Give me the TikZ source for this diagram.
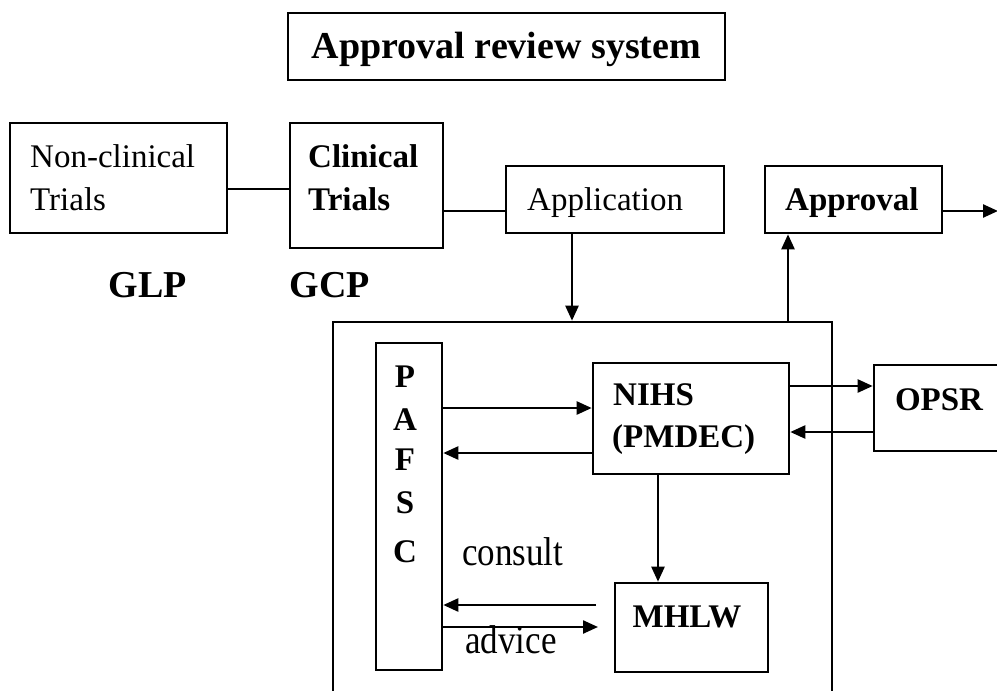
\documentclass[tikz,border=0pt]{standalone}
\usepackage{fontspec}
\setmainfont{Liberation Serif}
\usetikzlibrary{arrows.meta}
\begin{document}
\begin{tikzpicture}[x=1pt,y=-1pt,
  box/.style={draw,line width=2.6pt,rectangle,inner sep=0pt},
  conn/.style={line width=2.4pt},
  arr/.style={line width=2.4pt,-{Triangle[length=15pt,width=13pt]}},
  reg/.style={inner sep=0pt,font=\fontsize{33}{40}\selectfont},
  bld/.style={inner sep=0pt,font=\fontsize{33}{40}\selectfont\bfseries},
  lbl/.style={inner sep=0pt,font=\fontsize{35}{40}\selectfont}]
\clip (0,0) rectangle (997,691);
\fill[white] (0,0) rectangle (997,691);
% boxes
\node[box,minimum width=437pt,minimum height=67pt] (title) at (506.5,46.5) {};
\node[box,minimum width=217pt,minimum height=110pt] (noncl) at (118.5,178) {};
\node[box,minimum width=153pt,minimum height=125pt] (clin) at (366.5,185.5) {};
\node[box,minimum width=218pt,minimum height=67pt] (appl) at (615,199.5) {};
\node[box,minimum width=177pt,minimum height=67pt] (appr) at (853.5,199.5) {};
\node[box,minimum width=499pt,minimum height=398pt] (review) at (582.5,521) {};
\node[box,minimum width=66pt,minimum height=327pt] (pafsc) at (409,506.5) {};
\node[box,minimum width=196pt,minimum height=111pt] (nihs) at (691,418.5) {};
\node[box,minimum width=136pt,minimum height=86pt] (opsr) at (942,408) {};
\node[box,minimum width=153pt,minimum height=89pt] (mhlw) at (691.5,627.5) {};
% texts
\node[bld,anchor=base,font=\fontsize{38}{40}\selectfont\bfseries] (ttxt) at (506.5,58) {Approval review system};
\node[reg,anchor=base west] (t1) at (30,167) {Non-clinical};
\node[reg,anchor=base west] (t2) at (30,210) {Trials};
\node[bld,anchor=base west] (t3) at (308,167) {Clinical};
\node[bld,anchor=base west] (t4) at (308,210) {Trials};
\node[reg,anchor=base west] (t5) at (527,210) {Application};
\node[bld,anchor=base west] (t6) at (785,210) {Approval};
\node[bld,anchor=base,font=\fontsize{38}{40}\selectfont\bfseries] (glp) at (148,297) {GLP};
\node[bld,anchor=base,font=\fontsize{38}{40}\selectfont\bfseries] (gcp) at (330,297) {GCP};
\node[bld,anchor=base] (p1) at (405,387) {P};
\node[bld,anchor=base] (p2) at (405,430) {A};
\node[bld,anchor=base] (p3) at (405,470) {F};
\node[bld,anchor=base] (p4) at (405,513) {S};
\node[bld,anchor=base] (p5) at (405,562) {C};
\node[bld,anchor=base west] (n1) at (613,405) {NIHS};
\node[bld,anchor=base west] (n2) at (612,447) {(PMDEC)};
\node[bld,anchor=base] (o1) at (939,410) {OPSR};
\node[bld,anchor=base] (m1) at (687,627) {MHLW};
\node[lbl,anchor=base west] (cons) at (462,565) {\scalebox{1}[1.15]{consult}};
\node[lbl,anchor=base west] (adv) at (465,653) {\scalebox{1}[1.15]{advice}};
% helper coordinates
\coordinate (y189) at (0,189);
\coordinate (y211) at (0,211);
\coordinate (x572) at (572,0);
\coordinate (x788) at (788,0);
\coordinate (x658) at (658,0);
\coordinate (y408) at (0,408);
\coordinate (y453) at (0,453);
\coordinate (y386) at (0,386);
\coordinate (y432) at (0,432);
\coordinate (outR) at (998,211);
\coordinate (cs) at (596,605);
\coordinate (ad) at (598,627);
% connectors
\draw[conn] (noncl.east |- y189) -- (clin.west |- y189);
\draw[conn] (clin.east |- y211) -- (appl.west |- y211);
\draw[arr] (appr.east |- y211) -- (outR);
\draw[arr] (x572 |- appl.south) -- (x572 |- review.north);
\draw[arr] (x788 |- review.north) -- (x788 |- appr.south);
\draw[arr] (pafsc.east |- y408) -- (nihs.west |- y408);
\draw[arr] (nihs.west |- y453) -- (pafsc.east |- y453);
\draw[arr] (nihs.east |- y386) -- (opsr.west |- y386);
\draw[arr] (opsr.west |- y432) -- (nihs.east |- y432);
\draw[arr] (x658 |- nihs.south) -- (x658 |- mhlw.north);
\draw[arr] (cs) -- (pafsc.east |- cs);
\draw[arr] (pafsc.east |- ad) -- (ad);
\end{tikzpicture}
\end{document}
